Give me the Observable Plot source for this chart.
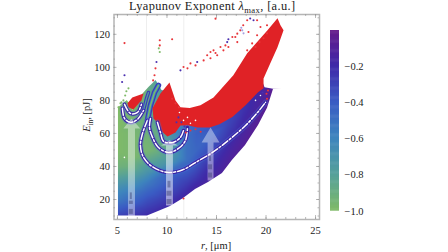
<!DOCTYPE html>
<html><head><meta charset="utf-8">
<script src="https://cdn.jsdelivr.net/npm/d3@7"></script>
<script src="https://cdn.jsdelivr.net/npm/@observablehq/plot@0.6"></script>
<style>
html,body{margin:0;padding:0;background:#fff;width:448px;height:252px;overflow:hidden}
svg{position:absolute;left:0;top:0;background:transparent}
.t{position:absolute;font-family:"Liberation Serif",serif;color:#222;white-space:nowrap;line-height:13px}
sub{font-size:70%;line-height:0}
</style></head><body>
<div id="main"></div><div id="bar"></div>
<div class="t" style="left:129px;top:0px;font-size:12.4px;letter-spacing:.35px">Lyapunov Exponent <i>λ</i><sub>max</sub>, [a.u.]</div>
<div class="t" style="left:201px;top:239px;font-size:10.5px"><i>r</i>, [μm]</div>
<div class="t" style="left:86px;top:115px;font-size:10.5px;transform:translate(-50%,-50%) rotate(-90deg)"><i>E</i><sub>in</sub>, [pJ]</div>
<script>
// colour scale of the bar
const colorStops=[-1,-0.8,-0.6,-0.4,-0.2,0];
const colorRange=["#7fba68","#55a09a","#3e85bd","#3a5cc4","#3f2aa8","#661a8a"];
// [r, E, lambda] readings of the smooth field
const field=[[5,10,-.3],[5,15,-.42],[5,20,-.55],[5,25,-.63],[5,30,-.73],[5,35,-.84],[5,40,-.93],[5,45,-.97],[5,50,-1],[5,60,-1],[5,110,-1],
[6.5,10,-.25],[6.5,15,-.35],[6.5,20,-.46],[6.5,25,-.56],[6.5,30,-.68],[6.5,35,-.8],[6.5,40,-.91],[6.5,45,-.97],[6.5,60,-.97],
[8,10,-.2],[8,15,-.28],[8,20,-.36],[8,25,-.45],[8,30,-.55],[8,36,-.7],
[9.14,12.7,-.2],[10.35,15.8,-.2],[11.67,20.6,-.17],[12.88,26,-.15],[14.19,30.3,-.14],[15.6,35.8,-.12],[16.6,43.6,-.1],[17.93,52.7,-.08],[19.24,64.8,-.06],
[10,20,-.27],[10,25,-.33],[10,30,-.4],[10,35,-.45],[11,25,-.28],[12,30,-.28],[13,33,-.25],[14,38,-.22],[15,42,-.2],[16,48,-.17],[17,55,-.15],[18,60,-.12],[20,76,-.08],
[8.5,50,-.95],[10,42,-.72],[12,44,-.5],[13,50,-.45],[13,60,-.42],[14.6,60,-.42],[16,65,-.32],[18,75,-.22],[19.5,85,-.15],[20.8,86,-.05],[10,51,-.85],[12,58,-.5],[8,70,-.9],[7,90,-1],[9,100,-.8],[14,10,-.1],[25,10,-.05],[25,130,-.3],[5,130,-1]];
// outlines, as [r, E]
const redMain=[[8.64,69.1],[8.54,75.2],[9.34,84.2],[10.25,90.9],[10.86,80],[11.36,75.8],[12.3,75.4],[13.38,77],[14.7,81.8],[16.7,95.2],[18.1,108.5],[20.15,122.4],[21.16,129.7],[21.46,125.5],[21.77,122.4],[21.16,112.1],[20.4,102],[19.75,93.3],[19.75,87.3],[19.2,85],[17.93,77],[16.6,70],[15.3,65.5],[14.3,63.6],[13.08,63.6],[12.17,64.8],[11.36,64.8],[10.86,60.6],[10.05,58.2],[9.14,63],[8.84,67.9],[8.64,69.1]];
const redLeft=[[6.01,78.2],[6.5,81.8],[7.63,84.2],[7.42,80],[6.6,74.5],[6.11,75.8],[6.01,78.2]];
const edgeLower=[[4.6,10],[8.03,10],[9.14,12.7],[10.35,15.8],[11.67,20.6],[12.88,26],[14.19,30.3],[15.6,35.8],[16.6,43.6],[17.93,52.7],[19.24,64.8],[20.15,75.2],[20.76,86.7],[25.5,88]];
const edgeUpper=[[4.6,75.5],[5.2,76],[6,80],[6.6,74],[7.6,84],[8.2,88],[8.9,92],[9.5,86],[10.2,85],[11,75],[13,72],[15,78],[17,88],[19,100],[19.75,90],[19.9,87.6],[20.76,86.7],[25.5,86]];
// neutral-stability curves
const curveA=[[8.03,67.9],[7.53,60],[7.32,52.7],[7.63,45.5],[8.64,39.4],[10.15,36.4],[11.6,38],[12.88,42.4],[14.6,48.5],[16.2,55.8],[17.93,64.8],[19.14,72.7],[19.95,78.8]];
const curveB=[[8.33,69],[8.23,63.6],[8.54,57.6],[9.14,51.5],[10.15,48.5],[11.16,50.9],[11.87,55.8],[12.07,63.6]];
const curveC=[[9.04,66.7],[9.34,60.6],[9.65,55.2],[10.56,54.5],[11.36,57.6],[11.67,61.8]];
const curveD=[[5.5,75.2],[5.71,69.1],[6.31,66.7],[7.02,68.5],[7.63,73.9]];
const curveE=[[5.71,77.6],[6.31,72.1],[7.02,72.7],[7.42,77.6]];
const stripA=[[8.03,67.9],[8.33,77],[8.74,84.8],[9.14,89.1]];
const stripB=[[7.63,73.9],[7.93,81.2],[8.13,84.8]];
// arrows
const arrow1=[[6.06,10],[6.06,63],[5.6,63],[6.41,69.1],[7.3,63],[6.77,63],[6.77,10],[6.06,10]];
const arrow2=[[9.9,16.4],[9.9,52.7],[9.4,52.7],[10.25,55.8],[11.1,52.7],[10.6,52.7],[10.6,16.4],[9.9,16.4]];
const arrow3=[[14.1,31.5],[14.1,54.5],[13.5,54.5],[14.4,63.6],[15.3,54.5],[14.7,54.5],[14.7,31.5],[14.1,31.5]];
const arrowMarks=[[6.2,6.6,11,14],[6.2,6.6,17,19],[6.3,6.5,20,24],[10,10.5,17,20],[10,10.5,22,25],[10.1,10.4,27,31],[14.2,14.6,33,36],[14.2,14.6,38,41],[14.3,14.5,43,46]];
// scattered points
const redDots=[[5.71,114.7],[9.27,116.4],[10.52,117],[9.27,113.3],[8.84,99.4],[8.74,95.2],[8.6,92.1],[14.9,129.5],[11.67,100.2],[14.06,107.3],[14.39,109.3],[14.7,110.3],[15.4,112.3],[16.6,118.4],[17.1,120.4],[17.4,122.4],[17.7,125.5],[18.1,128.5],[19.1,128.5],[18.23,121.4],[19.44,124.4],[19.1,119.4],[20.1,125.5],[18.6,114.5],[18.1,110.3],[17.1,115.3],[16.2,112.3],[15.7,110.3],[15.07,107.3],[14.39,105.5],[13.7,104.2],[12.88,101.2],[12.37,102.4],[12.07,99.4],[16.9,118.4],[15.9,113.3],[14.9,108.7],[20.1,120.6],[19.75,117.6],[19.34,115.3],[18.94,112.3],[10.52,81],[10.86,78.2],[11.2,75.8],[12.37,61.8],[12.88,62.5],[13.4,61],[11.67,20.6],[11.9,60.5],[20.05,84],[20.1,81],[20.2,86]];
const purpleDots=[[5.71,95.2],[5.47,91.1],[8.94,103.2],[11.36,98.2],[13.05,103.2],[16.08,115.3],[18.74,128.5],[18.4,129.6],[16.2,117],[11.16,69.7],[11.46,66.7],[11.77,64.2],[10.96,66.7],[19.65,84.8]];
const lavenderDots=[[17.6,122.4],[17.73,120.6],[17.5,124]];
const greenDots=[[9.17,111.5],[9.27,109.3],[5.78,83],[6.11,87.3],[5.6,80],[5.3,78.2],[5.1,75.8],[5.9,85.5],[5.4,78.8]];
const whiteDots=[[5.7,45.5],[11.26,72.7],[11.67,67.9],[12.07,69.7],[12.37,66.1],[12.88,67.9],[19.44,83],[18.94,80]];
// axes
const xTicks=[5,10,15,20,25], yTicks=[20,40,60,80,100,120], barTicks=[-0.2,-0.4,-0.6,-0.8,-1.0];
const xMinor=d3.range(5,26), yMinor=d3.range(10,131,5);
const faintUpper=[[7.93,92,131],[11.7,78,131],[11.7,8.5,20]];
const xDomain=[4.65,25.4], yDomain=[7.9,132];

const color={type:"linear",domain:colorStops,range:colorRange,interpolate:"rgb"};
const font='"Liberation Serif",serif';
const poly=(d,o)=>Plot.line(d,{x:p=>p[0],y:p=>p[1],curve:"linear",stroke:"none",...o});
const dots=(d,fill,r=1.05)=>Plot.dot(d,{x:p=>p[0],y:p=>p[1],r,fill,stroke:"none"});
const curveMarks=c=>[
  Plot.line(c,{x:p=>p[0],y:p=>p[1],curve:"catmull-rom",stroke:"#4a6fd0",strokeWidth:5.5,strokeOpacity:.4}),
  Plot.line(c,{x:p=>p[0],y:p=>p[1],curve:"catmull-rom",stroke:"#3a22a4",strokeWidth:3.5}),
  Plot.line(c,{x:p=>p[0],y:p=>p[1],curve:"catmull-rom",stroke:"#fff",strokeWidth:1.5,strokeDasharray:"7 2 2 2"})
];
const axisTick=(vals,dim,from,to)=>dim==="x"
  ?Plot.ruleX(vals,{y1:from,y2:to,stroke:"#999",strokeWidth:.7})
  :Plot.ruleY(vals,{x1:from,x2:to,stroke:"#999",strokeWidth:.7});

const main=Plot.plot({
  width:448,height:252,marginLeft:113.5,marginRight:129,marginTop:14,marginBottom:33,
  style:{background:"transparent",fontFamily:font,fontSize:"10.5px",color:"#222"},
  x:{domain:xDomain,axis:null},y:{domain:yDomain,axis:null},color,
  marks:[
    Plot.raster(field,{x:p=>p[0],y:p=>p[1],fill:p=>p[2],interpolate:"barycentric",pixelSize:1}),
    Plot.areaY(edgeLower,{x:p=>p[0],y1:yDomain[0],y2:p=>p[1],fill:"#fff"}),
    Plot.areaY(edgeUpper,{x:p=>p[0],y1:p=>p[1],y2:yDomain[1],fill:"#fff"}),
    Plot.rect([0],{x1:xDomain[0],x2:5.1,y1:yDomain[0],y2:yDomain[1],fill:"#fff"}),
    Plot.ruleX(faintUpper,{x:p=>p[0],y1:p=>p[1],y2:p=>p[2],stroke:"#eeeeee",strokeWidth:1}),
    Plot.line(stripA,{x:p=>p[0],y:p=>p[1],stroke:"#3a3ab8",strokeWidth:5.5}),
    Plot.line(stripA,{x:p=>p[0],y:p=>p[1],stroke:"#3e85bd",strokeWidth:3}),
    Plot.line(stripA,{x:p=>p[0],y:p=>p[1],stroke:"#7fba68",strokeWidth:1.3}),
    Plot.line(stripB,{x:p=>p[0],y:p=>p[1],stroke:"#3a3ab8",strokeWidth:3.5}),
    Plot.line(stripB,{x:p=>p[0],y:p=>p[1],stroke:"#55a09a",strokeWidth:1.2}),
    poly(redMain,{fill:"#e02226"}),
    poly(redLeft,{fill:"#e02226"}),
    ...[curveD,curveE,curveA,curveB,curveC].flatMap(curveMarks),
    poly(arrow1,{fill:"#fff",fillOpacity:.42}),
    poly(arrow2,{fill:"#fff",fillOpacity:.5}),
    poly(arrow3,{fill:"#fff",fillOpacity:.4}),
    Plot.rect(arrowMarks,{x1:p=>p[0],x2:p=>p[1],y1:p=>p[2],y2:p=>p[3],fill:"#3a3f70",fillOpacity:.45}),
    dots(redDots,"#e8353a"),dots(purpleDots,"#4a30b0"),dots(lavenderDots,"#a79fe0"),
    dots(greenDots,"#7fba68"),dots(whiteDots,"#fff",.8),
    Plot.frame({stroke:"#b5b5b5",strokeWidth:1.5}),
    axisTick(xMinor,"x",yDomain[0],yDomain[0]+1.2),axisTick(xTicks,"x",yDomain[0],yDomain[0]+2.4),
    axisTick(xMinor,"x",yDomain[1]-1.2,yDomain[1]),axisTick(xTicks,"x",yDomain[1]-2.4,yDomain[1]),
    axisTick(yMinor,"y",xDomain[0],xDomain[0]+.15),axisTick(yTicks,"y",xDomain[0],xDomain[0]+.3),
    axisTick(yMinor,"y",xDomain[1]-.15,xDomain[1]),axisTick(yTicks,"y",xDomain[1]-.3,xDomain[1]),
    Plot.axisX(xTicks,{anchor:"bottom",tickSize:0,tickPadding:7,label:null,fontSize:10.5,fill:"#222"}),
    Plot.axisY(yTicks,{anchor:"left",tickSize:0,tickPadding:4,label:null,fontSize:10.5,fill:"#222"})
  ]
});
document.getElementById("main").append(main);

const ramp=d3.range(-1,0,.005);
const bar=Plot.plot({
  width:448,height:252,marginLeft:330,marginRight:109,marginTop:30,marginBottom:41.3,
  style:{background:"transparent",fontFamily:font,fontSize:"10.5px",color:"#222"},
  x:{domain:[0,1],axis:null},y:{domain:[-1,0],axis:null},color,
  marks:[
    Plot.rect(ramp,{x1:0,x2:1,y1:v=>v,y2:v=>Math.min(0,v+.008),fill:v=>v}),
    Plot.axisY(barTicks,{anchor:"right",tickSize:0,tickPadding:5,label:null,fontSize:10.5,fill:"#222",tickFormat:v=>"\u2212"+Math.abs(v).toFixed(1)})
  ]
});
document.getElementById("bar").append(bar);
</script></body></html>
